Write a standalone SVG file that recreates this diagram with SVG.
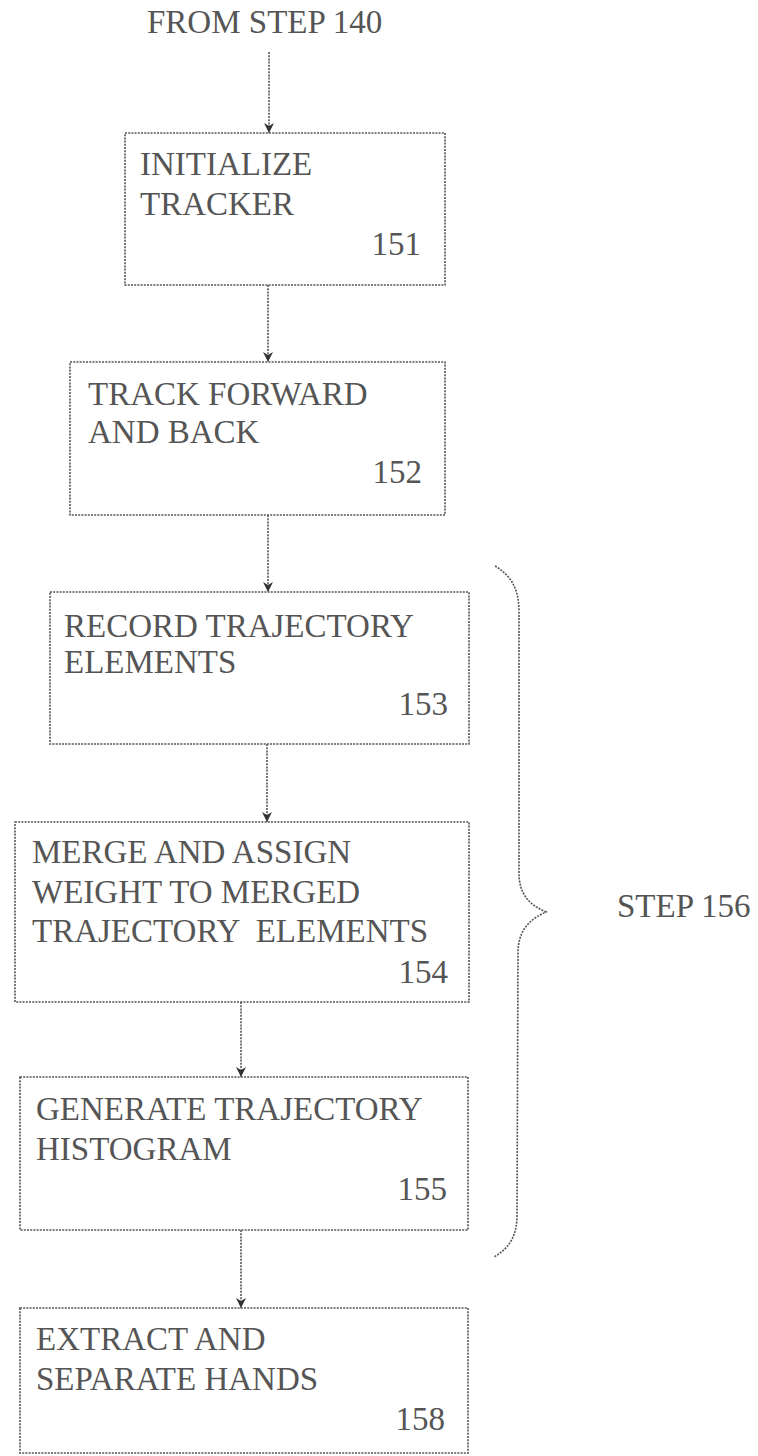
<svg xmlns="http://www.w3.org/2000/svg" width="758" height="1456" viewBox="0 0 758 1456">
<style>
.box{fill:none;stroke:#555;stroke-width:1.6;stroke-dasharray:2 1.2}
.c{fill:none;stroke:#555;stroke-width:1.6;stroke-dasharray:2 1.2}
.t{font-family:"Liberation Serif","Times New Roman",serif;font-size:33px;fill:#555}
.n{text-anchor:end}
</style>
<defs>
<marker id="ah" markerWidth="12" markerHeight="12" refX="10" refY="5" orient="auto" markerUnits="userSpaceOnUse">
<path d="M0,0 L10,5 L0,10 L3,5 Z" fill="#333"/>
</marker>
</defs>
<g id="start"><text class="t" x="147" y="33">FROM STEP 140</text></g>
<g id="connectors">
<line class="c" x1="269" y1="52" x2="269" y2="133" marker-end="url(#ah)"/>
<line class="c" x1="268" y1="285" x2="268" y2="362" marker-end="url(#ah)"/>
<line class="c" x1="268" y1="515" x2="268" y2="592" marker-end="url(#ah)"/>
<line class="c" x1="267" y1="744" x2="267" y2="822" marker-end="url(#ah)"/>
<line class="c" x1="241" y1="1002" x2="241" y2="1077" marker-end="url(#ah)"/>
<line class="c" x1="241" y1="1230" x2="241" y2="1308" marker-end="url(#ah)"/>
</g>
<g id="n151"><rect class="box" x="125" y="133" width="320" height="152"/>
<text class="t" x="140" y="175">INITIALIZE</text><text class="t" x="140" y="215">TRACKER</text><text class="t n" x="421" y="255">151</text></g>
<g id="n152"><rect class="box" x="70" y="362" width="375" height="153"/>
<text class="t" x="88" y="405">TRACK FORWARD</text><text class="t" x="88" y="443">AND BACK</text><text class="t n" x="422" y="483">152</text></g>
<g id="n153"><rect class="box" x="50" y="592" width="419" height="152"/>
<text class="t" x="64" y="637">RECORD TRAJECTORY</text><text class="t" x="64" y="673">ELEMENTS</text><text class="t n" x="448" y="715">153</text></g>
<g id="n154"><rect class="box" x="15" y="822" width="454" height="180"/>
<text class="t" x="32" y="863">MERGE AND ASSIGN</text><text class="t" x="32" y="903">WEIGHT TO MERGED</text><text class="t" x="32" y="942" xml:space="preserve">TRAJECTORY  ELEMENTS</text><text class="t n" x="448" y="983">154</text></g>
<g id="n155"><rect class="box" x="20" y="1077" width="448" height="153"/>
<text class="t" x="36" y="1120">GENERATE TRAJECTORY</text><text class="t" x="36" y="1160">HISTOGRAM</text><text class="t n" x="447" y="1200">155</text></g>
<g id="n158"><rect class="box" x="20" y="1308" width="448" height="145"/>
<text class="t" x="36" y="1350">EXTRACT AND</text><text class="t" x="36" y="1390">SEPARATE HANDS</text><text class="t n" x="445" y="1430">158</text></g>
<g id="brace"><path class="c" d="M495,566 C512,576 519,590 519,612 L519,873 C519,895 530,905 546,912 C530,919 518,930 518,953 L517,1215 C517,1235 510,1248 494,1257"/>
<text class="t" x="617" y="917">STEP 156</text></g>
</svg>
